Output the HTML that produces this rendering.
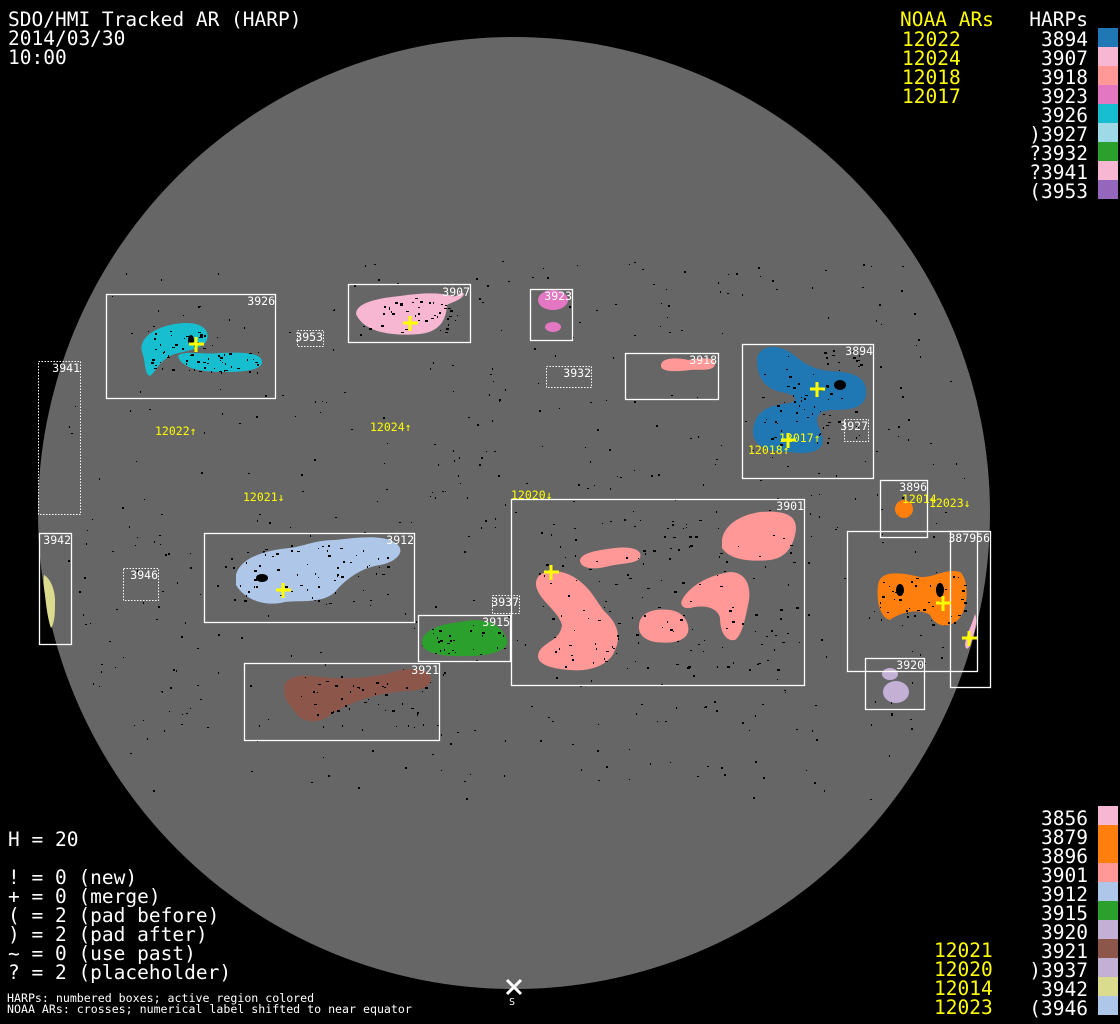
<!DOCTYPE html>
<html><head><meta charset="utf-8">
<style>
html,body{margin:0;padding:0;background:#000;}
svg{display:block;}
text{font-family:"DejaVu Sans Mono","Liberation Mono",monospace;}
</style></head>
<body>
<svg id="s" width="1120" height="1024" viewBox="0 0 1120 1024" xmlns="http://www.w3.org/2000/svg">
<rect width="1120" height="1024" fill="#000"/>
<circle cx="514" cy="513" r="476" fill="#666"/>
<g id="specks" fill="#000"></g>

<g>
<path d="M142,352 C138,336 160,324 185,323 C205,322 212,334 205,343 C198,350 180,352 172,355 C158,362 156,372 150,376 C144,374 146,362 142,352Z" fill="#17becf"/>
<path d="M178,356 C182,350 205,355 220,353 C240,352 262,352 262,362 C262,371 240,372 225,372 C205,372 182,370 178,356Z" fill="#17becf"/>
<path d="M356,314 C356,302 380,298 400,296 C420,293 440,292 452,296 C458,298 460,290 464,294 C462,300 452,302 447,305 C446,322 438,332 420,334 C395,336 365,334 356,314Z" fill="#f7b6d2"/>
<ellipse cx="553" cy="300" rx="15" ry="10" fill="#e377c2"/>
<ellipse cx="553" cy="327" rx="8" ry="5" fill="#e377c2"/>
<path d="M661,365 C662,358 675,357 688,360 C700,358 715,356 715,364 C714,372 700,369 690,370 C675,372 660,372 661,365Z" fill="#ff9896"/>
<path d="M757,360 C758,344 780,343 795,356 C805,364 815,370 830,371 C850,372 868,375 866,395 C864,410 845,410 830,410 C815,412 815,420 820,430 C830,452 810,455 790,452 C770,452 752,448 753,430 C755,410 770,405 790,403 C800,400 795,394 780,392 C765,388 757,378 757,360Z" fill="#1f77b4"/>
<circle cx="904" cy="509" r="9" fill="#ff7f0e"/>
<path d="M878,585 C880,570 900,572 920,577 C935,578 945,568 960,572 C970,580 968,610 958,620 C945,630 935,625 930,615 C920,608 900,612 890,620 C880,618 876,600 878,585Z" fill="#ff7f0e"/>
<path d="M975,614 C972,625 966,635 965,645 C966,652 970,648 972,640 C975,630 978,620 975,614Z" fill="#f7b6d2"/>
<ellipse cx="890" cy="674" rx="8" ry="6" fill="#c5b0d5"/>
<ellipse cx="896" cy="692" rx="13" ry="11" fill="#c5b0d5"/>
<path d="M236,575 C240,558 265,550 290,548 C305,546 315,540 335,540 C355,538 375,535 390,540 C410,548 398,562 380,565 C360,568 345,580 335,592 C322,604 300,600 285,602 C265,607 245,600 236,585Z" fill="#aec7e8"/>
<path d="M422,642 C423,630 440,624 460,622 C480,618 500,620 507,640 C510,650 490,656 470,656 C445,657 421,654 422,642Z" fill="#2ca02c"/>
<path d="M284,690 C284,676 300,674 320,677 C345,680 370,678 390,673 C410,666 432,668 431,680 C428,692 410,690 395,692 C370,695 345,705 330,715 C318,725 300,722 295,712 C290,705 284,700 284,690Z" fill="#8c564b"/>
<path d="M536,585 C535,570 555,568 570,575 C590,585 595,600 605,612 C620,625 620,640 615,650 C610,665 590,672 570,670 C545,668 533,662 540,650 C548,640 560,640 562,625 C558,610 538,600 536,585Z" fill="#ff9896"/>
<path d="M580,560 C582,552 600,550 615,548 C632,546 643,550 640,558 C636,564 620,563 605,567 C592,570 580,568 580,560Z" fill="#ff9896"/>
<path d="M639,625 C640,612 655,608 670,610 C685,612 690,625 688,632 C685,642 670,644 655,642 C645,640 638,635 639,625Z" fill="#ff9896"/>
<path d="M682,600 C690,585 710,575 730,572 C748,572 752,590 748,605 C745,620 742,635 735,640 C725,642 720,630 720,618 C718,608 705,604 690,608 C682,609 680,604 682,600Z" fill="#ff9896"/>
<path d="M722,540 C724,525 740,515 760,512 C785,510 800,515 795,535 C792,548 785,558 770,560 C750,562 730,560 722,548Z" fill="#ff9896"/>
<path d="M44,575 C50,578 56,590 55,605 C55,615 54,625 51,628 C48,620 46,605 45,595 C44,588 43,580 44,575Z" fill="#dbdb8d"/>
</g>
<g id="spots" fill="#000"></g>

<g fill="none" stroke="#fff" stroke-width="1.3">
<rect x="106.5" y="294.5" width="169" height="104"/>
<rect x="348.5" y="284.5" width="122" height="58"/>
<rect x="530.5" y="289.5" width="42" height="51"/>
<rect x="625.5" y="353.5" width="93" height="46"/>
<rect x="742.5" y="344.5" width="131" height="134"/>
<rect x="39.5" y="533.5" width="32" height="111"/>
<rect x="204.5" y="533.5" width="210" height="89"/>
<rect x="418.5" y="615.5" width="92" height="46"/>
<rect x="244.5" y="663.5" width="195" height="77"/>
<rect x="511.5" y="499.5" width="293" height="186"/>
<rect x="880.5" y="480.5" width="47" height="57"/>
<rect x="847.5" y="531.5" width="130" height="140"/>
<rect x="950.5" y="531.5" width="40" height="156"/>
<rect x="865.5" y="658.5" width="59" height="51"/>
</g>
<g fill="none" stroke="#fff" stroke-width="1" stroke-dasharray="1.5,1.5">
<rect x="297.5" y="330.5" width="26" height="16"/>
<rect x="546.5" y="366.5" width="45" height="21"/>
<rect x="844.5" y="419.5" width="24" height="22"/>
<rect x="38.5" y="361.5" width="42" height="153"/>
<rect x="123.5" y="568.5" width="35" height="32"/>
<rect x="492.5" y="595.5" width="27" height="18"/>
</g>

<g fill="#fff" font-size="11.5" text-anchor="end">
<text x="275" y="305">3926</text>
<text x="470" y="296">3907</text>
<text x="572" y="300">3923</text>
<text x="323" y="341">3953</text>
<text x="591" y="377">3932</text>
<text x="717" y="364">3918</text>
<text x="873" y="355">3894</text>
<text x="868" y="430">3927</text>
<text x="80" y="372">3941</text>
<text x="71" y="544">3942</text>
<text x="158" y="579">3946</text>
<text x="414" y="544">3912</text>
<text x="519" y="606">3937</text>
<text x="510" y="626">3915</text>
<text x="439" y="674">3921</text>
<text x="804" y="510">3901</text>
<text x="927" y="491">3896</text>
<text x="990" y="542">387956</text>
<text x="924" y="669">3920</text>
</g>

<g fill="#ff0" font-size="11.5">
<text x="155" y="435">12022↑</text>
<text x="370" y="431">12024↑</text>
<text x="243" y="501">12021↓</text>
<text x="511" y="499">12020↓</text>
<text x="779" y="442">12017↑</text>
<text x="748" y="454">12018↑</text>
<text x="902" y="503">12014</text>
<text x="929" y="507">12023↓</text>
</g>

<g stroke="#ff0" stroke-width="3">
<path d="M189,344h15M196,337v15"/>
<path d="M403,323h15M410,316v15"/>
<path d="M810,389h15M817,382v15"/>
<path d="M781,440h15M788,433v15"/>
<path d="M544,572h15M551,565v15"/>
<path d="M276,590h15M283,583v15"/>
<path d="M936,603h15M943,596v15"/>
<path d="M962,638h15M969,631v15"/>
</g>

<g fill="#fff" font-size="19.5">
<text x="8" y="26">SDO/HMI Tracked AR (HARP)</text>
<text x="8" y="45">2014/03/30</text>
<text x="8" y="64">10:00</text>
<text x="8" y="846">H = 20</text>
<text x="8" y="884">! = 0 (new)</text>
<text x="8" y="903">+ = 0 (merge)</text>
<text x="8" y="922">( = 2 (pad before)</text>
<text x="8" y="941">) = 2 (pad after)</text>
<text x="8" y="960">~ = 0 (use past)</text>
<text x="8" y="979">? = 2 (placeholder)</text>
</g>
<g fill="#fff" font-size="11.6">
<text x="7" y="1002">HARPs: numbered boxes; active region colored</text>
<text x="7" y="1013">NOAA ARs: crosses; numerical label shifted to near equator</text>
<text x="509" y="1005" font-size="10">S</text>
</g>
<path d="M507,980l14,14M521,980l-14,14" stroke="#fff" stroke-width="3"/>

<g fill="#ff0" font-size="19.5">
<text x="900" y="26">NOAA ARs</text>
<text x="902" y="46">12022</text>
<text x="902" y="65">12024</text>
<text x="902" y="84">12018</text>
<text x="902" y="103">12017</text>
<text x="934" y="957">12021</text>
<text x="934" y="976">12020</text>
<text x="934" y="995">12014</text>
<text x="934" y="1014">12023</text>
</g>
<g fill="#fff" font-size="19.5" text-anchor="end">
<text x="1088" y="26">HARPs</text>
<text x="1088" y="46">3894</text>
<text x="1088" y="65">3907</text>
<text x="1088" y="84">3918</text>
<text x="1088" y="103">3923</text>
<text x="1088" y="122">3926</text>
<text x="1088" y="141">)3927</text>
<text x="1088" y="160">?3932</text>
<text x="1088" y="179">?3941</text>
<text x="1088" y="198">(3953</text>
<text x="1088" y="825">3856</text>
<text x="1088" y="844">3879</text>
<text x="1088" y="863">3896</text>
<text x="1088" y="882">3901</text>
<text x="1088" y="901">3912</text>
<text x="1088" y="920">3915</text>
<text x="1088" y="939">3920</text>
<text x="1088" y="958">3921</text>
<text x="1088" y="977">)3937</text>
<text x="1088" y="996">3942</text>
<text x="1088" y="1015">(3946</text>
</g>
<g>
<rect x="1098" y="28" width="20" height="19" fill="#1f77b4"/>
<rect x="1098" y="47" width="20" height="19" fill="#f7b6d2"/>
<rect x="1098" y="66" width="20" height="19" fill="#ff9896"/>
<rect x="1098" y="85" width="20" height="19" fill="#e377c2"/>
<rect x="1098" y="104" width="20" height="19" fill="#17becf"/>
<rect x="1098" y="123" width="20" height="19" fill="#9edae5"/>
<rect x="1098" y="142" width="20" height="19" fill="#2ca02c"/>
<rect x="1098" y="161" width="20" height="19" fill="#f7b6d2"/>
<rect x="1098" y="180" width="20" height="19" fill="#9467bd"/>
<rect x="1098" y="806" width="20" height="19" fill="#f7b6d2"/>
<rect x="1098" y="825" width="20" height="19" fill="#ff7f0e"/>
<rect x="1098" y="844" width="20" height="19" fill="#ff7f0e"/>
<rect x="1098" y="863" width="20" height="19" fill="#ff9896"/>
<rect x="1098" y="882" width="20" height="19" fill="#aec7e8"/>
<rect x="1098" y="901" width="20" height="19" fill="#2ca02c"/>
<rect x="1098" y="920" width="20" height="19" fill="#c5b0d5"/>
<rect x="1098" y="939" width="20" height="19" fill="#8c564b"/>
<rect x="1098" y="958" width="20" height="19" fill="#c5b0d5"/>
<rect x="1098" y="977" width="20" height="19" fill="#dbdb8d"/>
<rect x="1098" y="996" width="20" height="19" fill="#aec7e8"/>
</g>
</svg>
<script>
(function(){
var seed=12345;function r(){seed=(seed*1103515245+12345)%2147483648;return seed/2147483648;}
var ns="http://www.w3.org/2000/svg",g=document.getElementById("specks"),sp=document.getElementById("spots");
function add(par,x,y,w,h){var e=document.createElementNS(ns,"rect");e.setAttribute("x",x);e.setAttribute("y",y);e.setAttribute("width",w);e.setAttribute("height",h);par.appendChild(e);}
for(var i=0;i<550;i++){var x=60+r()*910,y=260+r()*540;var dx=x-514,dy=y-513;if(dx*dx+dy*dy>460*460)continue;add(g,x.toFixed(0),y.toFixed(0),1+Math.floor(r()*2),1+Math.floor(r()*2));}
var regs=[[150,330,60,40,40],[180,352,80,20,30],[360,298,90,35,40],[760,350,100,95,70],[240,545,150,60,60],[425,625,80,30,25],[290,675,140,40,40],[540,520,260,150,120],[880,575,85,50,45]];
regs.forEach(function(a){for(var i=0;i<a[4];i++){add(sp,(a[0]+r()*a[2]).toFixed(0),(a[1]+r()*a[3]).toFixed(0),1+Math.floor(r()*3),1+Math.floor(r()*2));}});
[[191,340,6,10],[262,578,12,8],[840,385,12,10],[900,590,8,12],[940,590,8,14]].forEach(function(a){var e=document.createElementNS(ns,"ellipse");e.setAttribute("cx",a[0]);e.setAttribute("cy",a[1]);e.setAttribute("rx",a[2]/2);e.setAttribute("ry",a[3]/2);sp.appendChild(e);});
})();
</script>
</body></html>
